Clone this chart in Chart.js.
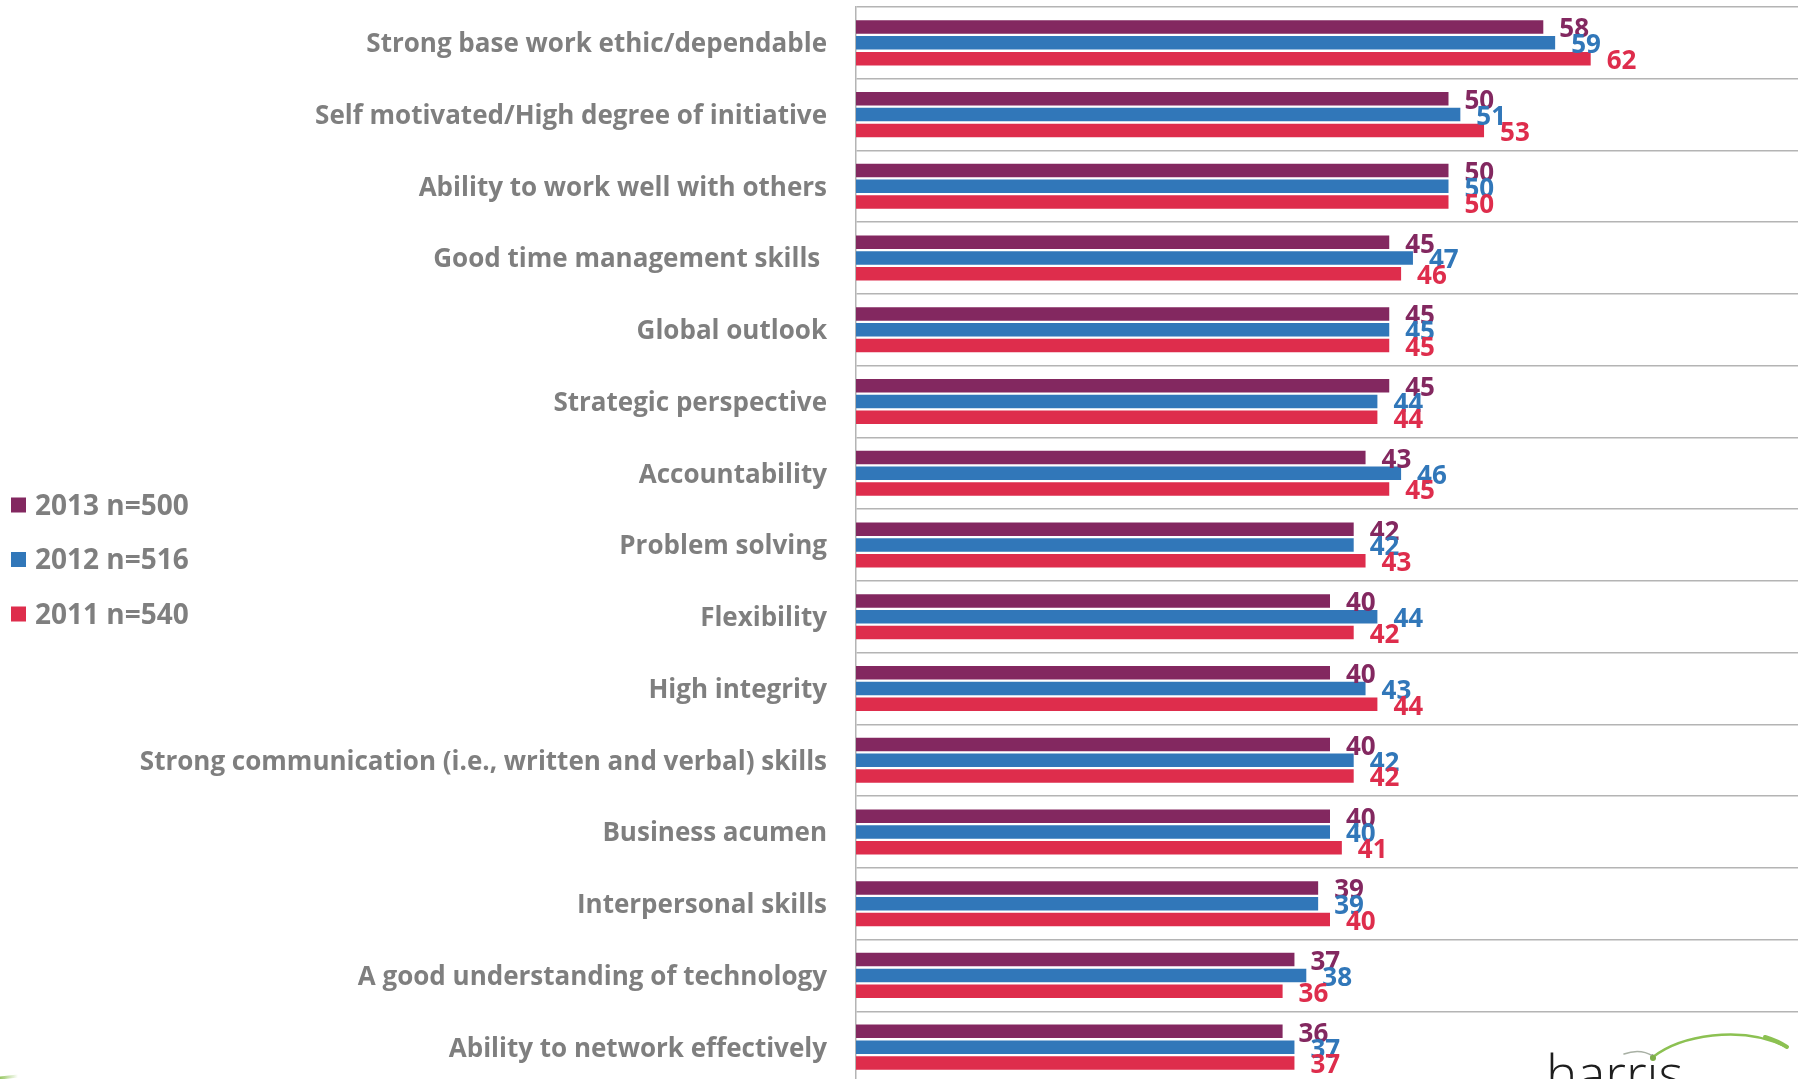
<!DOCTYPE html>
<html>
<head>
<meta charset="utf-8">
<title>Most desired attributes</title>
<script src="https://cdn.jsdelivr.net/npm/chart.js@4/dist/chart.umd.min.js"></script>
<style>
  html, body { margin: 0; padding: 0; background: #ffffff; overflow: hidden; }
  #wrap { position: absolute; left: 0; top: 0; width: 1804px; height: 1086px; }
</style>
</head>
<body>
<div id="wrap"><canvas id="chart" width="1804" height="1086"></canvas></div>
<script>
// Attributes, top to bottom
const categories = [
  'Strong base work ethic/dependable',
  'Self motivated/High degree of initiative',
  'Ability to work well with others',
  'Good time management skills ',
  'Global outlook',
  'Strategic perspective',
  'Accountability',
  'Problem solving',
  'Flexibility',
  'High integrity',
  'Strong communication (i.e., written and verbal) skills',
  'Business acumen',
  'Interpersonal skills',
  'A good understanding of technology',
  'Ability to network effectively'
];

// Percentages per survey year
const values2013 = [58, 50, 50, 45, 45, 45, 43, 42, 40, 40, 40, 40, 39, 37, 36];
const values2012 = [59, 51, 50, 47, 45, 44, 46, 42, 44, 43, 42, 40, 39, 38, 37];
const values2011 = [62, 53, 50, 46, 45, 44, 45, 43, 42, 44, 42, 41, 40, 36, 37];

const seriesLabels = ['2013 n=500', '2012 n=516', '2011 n=540'];
const seriesColors = ['#832860', '#3177b9', '#de2d4c'];

const TEXT_GREY = '#7f7f7f';
const FONT_FAMILY = '"Open Sans", "Noto Sans", sans-serif';

// Value printed just past the end of each bar, in the bar's colour
const valueLabels = {
  id: 'valueLabels',
  afterDatasetsDraw(chart) {
    const ctx = chart.ctx;
    ctx.save();
    ctx.font = 'bold 26px ' + FONT_FAMILY;
    ctx.textAlign = 'left';
    ctx.textBaseline = 'middle';
    chart.data.datasets.forEach((ds, di) => {
      const meta = chart.getDatasetMeta(di);
      meta.data.forEach((bar, i) => {
        ctx.fillStyle = ds.backgroundColor;
        ctx.fillText(String(ds.data[i]), bar.x + 16, bar.y + 3);
      });
    });
    ctx.restore();
  }
};

// Year legend stacked on the left side
const sideLegend = {
  id: 'sideLegend',
  afterDraw(chart) {
    const ctx = chart.ctx;
    ctx.save();
    ctx.font = 'bold 28px ' + FONT_FAMILY;
    ctx.textAlign = 'left';
    ctx.textBaseline = 'middle';
    chart.data.datasets.forEach((ds, i) => {
      const cy = 505 + i * 54.5;
      ctx.fillStyle = ds.backgroundColor;
      ctx.fillRect(11, cy - 7.5, 15, 15);
      ctx.fillStyle = TEXT_GREY;
      ctx.fillText(ds.label, 35, cy + 2);
    });
    ctx.restore();
  }
};

// Company logo mark in the bottom right corner, plus the green swash at bottom left
const logoMark = {
  id: 'logoMark',
  afterDraw(chart) {
    const ctx = chart.ctx;
    ctx.save();
    ctx.fillStyle = '#1e1e1e';
    ctx.font = '300 53px ' + FONT_FAMILY;
    ctx.textAlign = 'left';
    ctx.textBaseline = 'alphabetic';
    ctx.fillText('harris', 1546, 1093);

    ctx.lineCap = 'round';
    ctx.strokeStyle = '#a8b0a4';
    ctx.lineWidth = 1.5;
    ctx.beginPath();
    ctx.moveTo(1624, 1054);
    ctx.quadraticCurveTo(1640, 1048, 1653, 1056);
    ctx.stroke();

    ctx.strokeStyle = '#8cc152';
    ctx.lineWidth = 2.5;
    ctx.beginPath();
    ctx.moveTo(1653, 1057);
    ctx.bezierCurveTo(1680, 1036, 1740, 1024, 1787, 1047);
    ctx.stroke();
    ctx.lineWidth = 4;
    ctx.beginPath();
    ctx.moveTo(1765, 1037);
    ctx.quadraticCurveTo(1778, 1041, 1787, 1047);
    ctx.stroke();
    ctx.fillStyle = '#7fae4a';
    ctx.beginPath();
    ctx.arc(1653, 1058, 3, 0, Math.PI * 2);
    ctx.fill();

    const g = ctx.createLinearGradient(0, 0, 18, 0);
    g.addColorStop(0, 'rgba(140,193,82,0.9)');
    g.addColorStop(1, 'rgba(140,193,82,0)');
    ctx.strokeStyle = g;
    ctx.lineWidth = 3;
    ctx.beginPath();
    ctx.moveTo(0, 1078);
    ctx.lineTo(18, 1076);
    ctx.stroke();
    ctx.restore();
  }
};

new Chart(document.getElementById('chart'), {
  type: 'bar',
  data: {
    labels: categories,
    datasets: [
      { label: seriesLabels[0], data: values2013, backgroundColor: seriesColors[0] },
      { label: seriesLabels[1], data: values2012, backgroundColor: seriesColors[1] },
      { label: seriesLabels[2], data: values2011, backgroundColor: seriesColors[2] }
    ]
  },
  options: {
    indexAxis: 'y',
    responsive: false,
    animation: false,
    events: [],
    layout: { padding: { top: 7, bottom: 3, left: 0, right: 0 } },
    datasets: {
      bar: { categoryPercentage: 0.66, barPercentage: 0.855, borderWidth: 0 }
    },
    scales: {
      x: { type: 'linear', min: 0, max: 80, display: false },
      y: {
        type: 'category',
        grid: { color: '#b4b4b4', lineWidth: 1.5, drawTicks: false, offset: true },
        border: { display: true, color: '#b4b4b4', width: 1.5 },
        ticks: {
          color: TEXT_GREY,
          autoSkip: false,
          padding: 29,
          labelOffset: 2,
          font: { family: FONT_FAMILY, weight: 'bold', size: 26 }
        },
        afterFit(scale) {
          // labels sit in the middle of each band, so no edge padding is needed
          scale.width = 856;
          scale.paddingTop = 0;
          scale.paddingBottom = 0;
        }
      }
    },
    plugins: {
      legend: { display: false },
      tooltip: { enabled: false }
    }
  },
  plugins: [valueLabels, sideLegend, logoMark]
});
</script>
</body>
</html>
